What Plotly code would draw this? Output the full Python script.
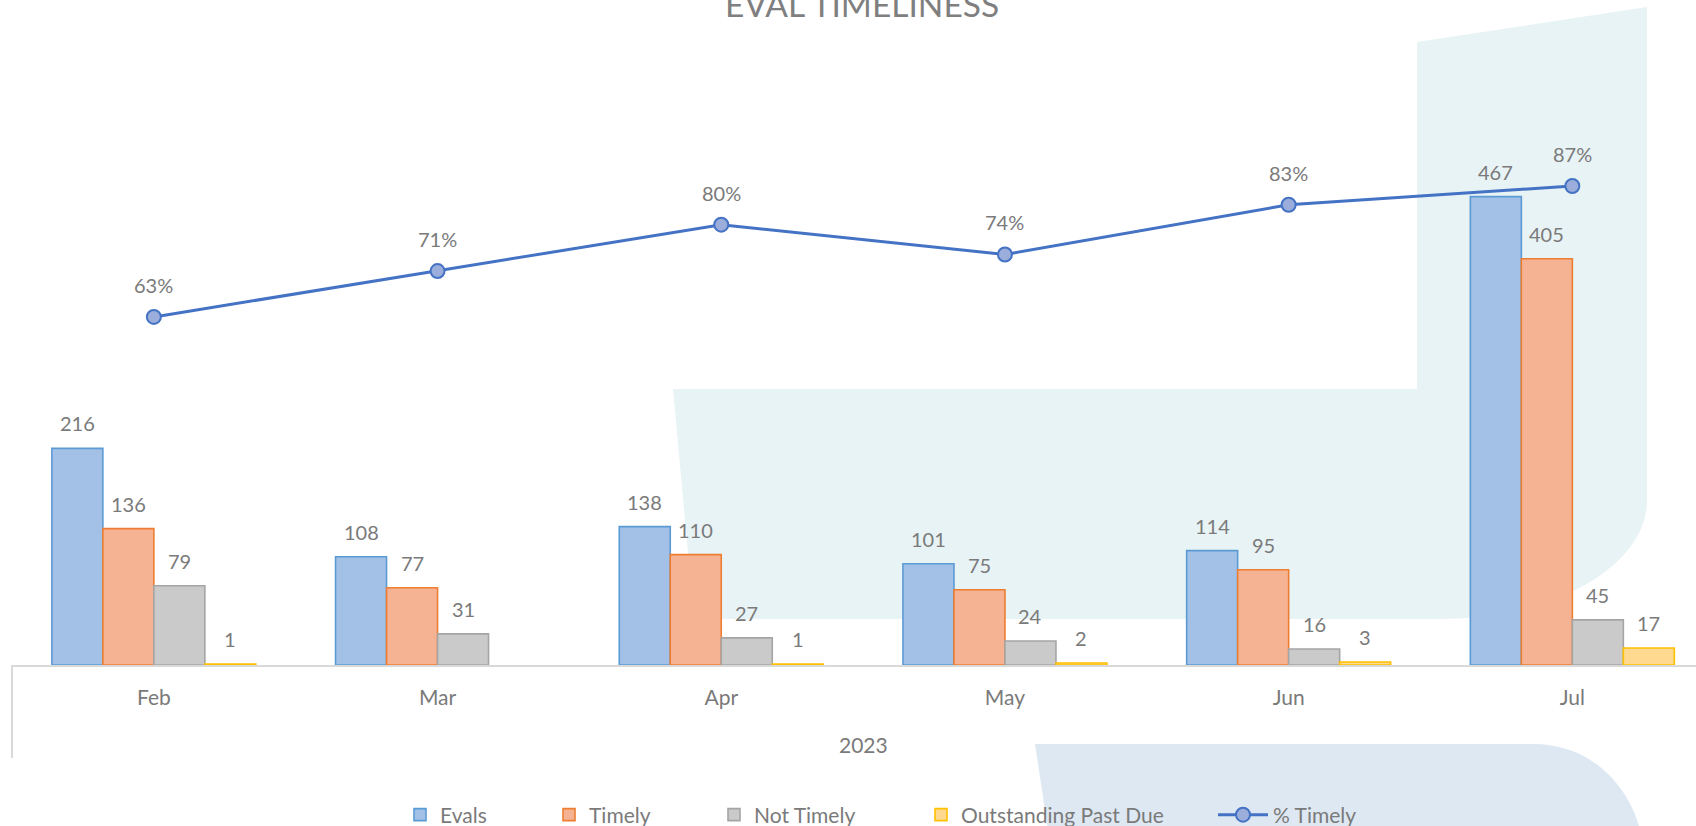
import plotly.graph_objects as go

# ---------------- data ----------------
months = ["Feb", "Mar", "Apr", "May", "Jun", "Jul"]
year_label = "2023"
evals = [216, 108, 138, 101, 114, 467]
timely = [136, 77, 110, 75, 95, 405]
not_timely = [79, 31, 27, 24, 16, 45]
outstanding = [1, None, 1, 2, 3, 17]
pct_timely = [0.630, 0.713, 0.797, 0.743, 0.833, 0.867]

# ---------------- layout geometry (pixels) ----------------
W, H = 1696, 826
L = 12          # left edge of plot area
BASE = 665      # baseline (y=0)
TOP = 100       # top of plot area
CAT_PX = 283.7  # width of one category in px
BARGAP = 0.281
N_SERIES = 4

FONT = "Lato"
TXT = "#7a7a7a"


def px(x):
    return (x - L) / (W - L)


def py(y):
    return (BASE - y) / (BASE - TOP)


x_end = -0.5 + (W - L) / CAT_PX
y1_max = (BASE - TOP) / 1.003
y2_max = (BASE - TOP) / 552.5

series = [
    ("Evals", evals, "#a3c1e6", "#5b9bd5"),
    ("Timely", timely, "#f6b393", "#ed7d31"),
    ("Not Timely", not_timely, "#cacaca", "#a5a5a5"),
    ("Outstanding Past Due", outstanding, "#ffd98f", "#ffc000"),
]
legend_text_x = [440, 589, 754, 961, 1273]
legend_ids = ["legend", "legend2", "legend3", "legend4", "legend5"]

fig = go.Figure()
for i, (name, vals, fill, line) in enumerate(series):
    fig.add_trace(go.Bar(
        x=months, y=vals, name=name,
        marker=dict(color=fill, line=dict(color=line, width=1.6)),
        yaxis="y", legend=legend_ids[i],
    ))

fig.add_trace(go.Scatter(
    x=months, y=pct_timely, name="% Timely", yaxis="y2",
    mode="lines+markers",
    line=dict(color="#4472c4", width=3),
    marker=dict(size=14, color="#9aaddb", line=dict(color="#4472c4", width=2)),
    legend=legend_ids[4],
))

annotations = []
bw = (1 - BARGAP) / N_SERIES
for si, (name, vals, _, _) in enumerate(series):
    off = (si - (N_SERIES - 1) / 2) * bw
    for ci, v in enumerate(vals):
        if v is None:
            continue
        annotations.append(dict(
            x=ci + off, y=v, xref="x", yref="y", text=str(v),
            showarrow=False, yshift=25, yanchor="middle",
            font=dict(family=FONT, size=20, color=TXT),
        ))
for ci, p in enumerate(pct_timely):
    annotations.append(dict(
        x=ci, y=p, xref="x", yref="y2", text=f"{round(p * 100)}%",
        showarrow=False, yshift=32, yanchor="middle",
        font=dict(family=FONT, size=20, color=TXT),
    ))
# outer category label
annotations.append(dict(
    x=(len(months) - 1) / 2, y=py(744.5), xref="x", yref="paper", text=year_label,
    showarrow=False, yanchor="middle",
    font=dict(family=FONT, size=21, color=TXT),
))
# title (cut at top, as in the reference)
annotations.append(dict(
    x=px(862), y=py(4.5), xref="paper", yref="paper", text="EVAL TIMELINESS",
    showarrow=False, yanchor="middle",
    font=dict(family=FONT, size=33.5, color="#7f7f7f"),
))

teal_path = (
    f"M {px(1417)},{py(42)} L {px(1647)},{py(7)} L {px(1647)},{py(500)} "
    f"C {px(1647)},{py(566)} {px(1554)},{py(619)} {px(1440)},{py(619)} "
    f"L {px(694)},{py(619)} L {px(673)},{py(389)} L {px(1417)},{py(389)} Z"
)
blue_path = (
    f"M {px(1035)},{py(744)} L {px(1533)},{py(744)} "
    f"C {px(1595)},{py(744)} {px(1630)},{py(790)} {px(1640)},{py(830)} "
    f"L {px(1048)},{py(830)} Z"
)

shapes = [
    dict(type="path", path=teal_path, xref="paper", yref="paper",
         fillcolor="#e8f3f5", line=dict(width=0), layer="below"),
    dict(type="path", path=blue_path, xref="paper", yref="paper",
         fillcolor="#dee8f2", line=dict(width=0), layer="below"),
    dict(type="line", x0=0, x1=0, y0=0, y1=py(758), xref="paper", yref="paper",
         line=dict(color="#d9d9d9", width=2)),
]

legend_common = dict(orientation="h", xanchor="left", y=py(815), yanchor="middle",
                     font=dict(family=FONT, size=21, color=TXT),
                     bgcolor="rgba(0,0,0,0)")
legends = {}
for i, lid in enumerate(legend_ids):
    gap = 60 if i == 4 else 40
    d = dict(legend_common, x=px(legend_text_x[i] - gap))
    if i == 4:
        d["itemwidth"] = 50
    legends[lid] = d

fig.update_layout(
    width=W, height=H,
    margin=dict(l=L, r=0, t=TOP, b=H - BASE, autoexpand=False),
    paper_bgcolor="white", plot_bgcolor="rgba(0,0,0,0)",
    barmode="group", bargap=BARGAP, bargroupgap=0,
    font=dict(family=FONT, size=20, color=TXT),
    showlegend=True,
    xaxis=dict(type="category", range=[-0.5, x_end], showgrid=False,
               showline=True, linecolor="#d9d9d9", linewidth=2,
               ticks="outside", ticklen=13, tickcolor="rgba(0,0,0,0)",
               tickfont=dict(family=FONT, size=21, color=TXT), zeroline=False,
               automargin=False),
    yaxis=dict(range=[0, y1_max], visible=False, showgrid=False, zeroline=False),
    yaxis2=dict(range=[0, y2_max], overlaying="y", side="right", visible=False,
                showgrid=False, zeroline=False),
    annotations=annotations,
    shapes=shapes,
    **legends,
)

fig.write_html("out.html",
               config={"displayModeBar": False},
               post_script="document.body.style.margin='0px';")
